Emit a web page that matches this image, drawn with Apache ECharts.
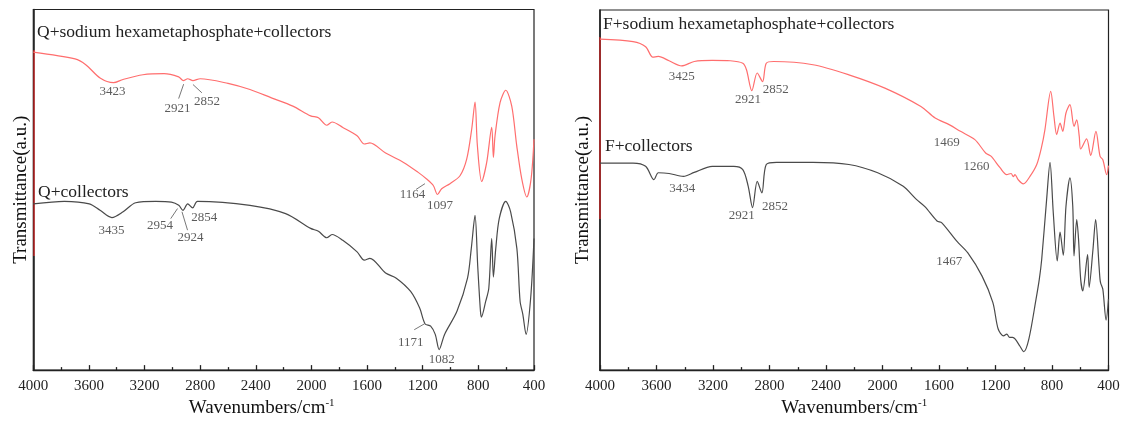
<!DOCTYPE html>
<html>
<head>
<meta charset="utf-8">
<script src="https://cdn.jsdelivr.net/npm/echarts@6/dist/echarts.min.js"></script>
<style>
html,body{margin:0;padding:0;background:#fff;}
#chart{width:1126px;height:423px;}
</style>
</head>
<body>
<div id="chart"></div>
<script>
// ---------- DATA (wavenumber cm-1, transmittance a.u.) ----------
var xTicks = [4000, 3600, 3200, 2800, 2400, 2000, 1600, 1200, 800, 400];

var qShmpCollectors = [
  [4000,88.2],[3700,86.3],[3623,84.7],[3520,81.0],[3423,79.7],[3355,80.6],[3212,81.9],[3060,82.2],
  [2955,81.3],[2921,80.3],[2890,80.8],[2852,80.3],[2800,80.8],[2600,79.5],[2442,77.8],[2288,75.5],
  [2134,73.2],[2006,70.5],[1950,70.0],[1890,67.9],[1852,68.8],[1775,67.3],[1672,65.0],[1620,62.7],
  [1580,63.0],[1467,60.2],[1338,57.6],[1235,54.9],[1172,53.0],[1124,51.2],[1094,48.7],[1064,50.3],
  [1004,51.7],[932,53.9],[884,58.5],[848,66.8],[824,74.3],[807,62.2],[776,52.3],[740,57.6],
  [704,67.3],[692,59.0],[680,65.0],[644,74.2],[603,77.6],[560,73.2],[524,62.2],[488,53.0],
  [452,48.0],[421,53.0],[400,64.0]
];

var qCollectors = [
  [4000,46.1],[3777,46.8],[3597,46.1],[3520,44.3],[3435,42.3],[3354,43.9],[3264,46.4],[3120,46.8],
  [3007,46.6],[2954,45.7],[2924,44.3],[2890,46.1],[2854,45.0],[2820,46.8],[2442,45.7],[2186,43.4],
  [2006,39.3],[1950,38.5],[1890,36.7],[1852,37.6],[1775,36.0],[1672,32.8],[1620,30.5],[1580,31.0],
  [1467,26.9],[1390,25.5],[1287,21.8],[1222,17.2],[1183,12.8],[1143,12.2],[1110,9.9],[1082,5.7],
  [1043,9.9],[954,16.3],[878,25.5],[851,33.7],[824,42.9],[805,29.1],[785,16.3],[778,14.7],
  [747,19.1],[725,22.7],[704,36.5],[692,25.8],[675,33.7],[650,42.0],[603,46.8],[568,43.9],
  [523,33.7],[500,19.1],[480,15.4],[457,9.9],[424,20.0],[400,36.5]
];

var fShmpCollectors = [
  [4000,91.9],[3766,91.2],[3677,89.8],[3626,86.9],[3587,87.1],[3511,85.9],[3422,84.5],[3333,85.7],
  [3205,86.0],[3078,85.9],[2989,85.2],[2963,83.4],[2925,77.6],[2887,82.5],[2849,80.1],[2823,85.2],
  [2770,85.7],[2492,84.8],[2238,82.0],[1983,78.3],[1728,73.2],[1627,70.0],[1525,68.1],[1448,66.3],
  [1346,64.0],[1270,60.3],[1232,59.4],[1168,56.2],[1121,54.3],[1090,54.6],[1074,53.7],[1062,54.3],
  [1040,52.9],[1003,51.7],[956,53.8],[908,57.1],[873,62.1],[850,66.8],[809,77.4],[786,70.4],
  [767,65.4],[743,68.6],[724,66.3],[701,71.4],[673,73.7],[644,67.7],[625,69.5],[607,64.9],
  [597,61.4],[555,64.2],[526,59.6],[489,66.3],[460,59.4],[440,58.4],[413,54.3],[400,56.8]
];

var fCollectors = [
  [4000,57.5],[3766,57.5],[3677,56.6],[3618,52.9],[3587,54.8],[3511,54.6],[3409,53.8],[3333,54.9],
  [3205,56.6],[3053,56.6],[2989,55.7],[2951,51.1],[2920,45.1],[2887,52.4],[2854,49.2],[2823,57.1],
  [2750,57.7],[2492,57.7],[2238,57.1],[2034,54.8],[1856,51.1],[1760,47.4],[1700,45.4],[1614,41.4],
  [1580,40.9],[1474,35.8],[1397,32.6],[1295,26.1],[1219,18.8],[1181,11.4],[1143,9.5],[1120,10.0],
  [1100,9.1],[1079,9.1],[1060,8.6],[1028,6.7],[1000,5.1],[964,8.6],[913,19.7],[890,25.2],
  [873,30.7],[838,47.4],[814,57.7],[791,43.7],[763,30.3],[743,38.3],[720,31.9],[701,45.5],
  [673,53.4],[653,45.5],[644,31.7],[625,41.8],[612,36.3],[597,25.2],[582,22.0],[548,32.1],
  [537,23.0],[510,33.5],[491,41.8],[467,28.9],[460,25.2],[455,24.1],[440,22.4],[417,13.9],[400,19.7]
];

// peak labels: [text, wavenumber, transmittance]
var qPeakLabels = [
  ['3423',3431,77.1],['2921',2963,72.6],['2852',2751,74.6],['1164',1274,48.6],['1097',1076,45.7],
  ['3435',3438,38.8],['2954',3089,40.2],['2924',2870,36.8],['2854',2770,42.3],['1171',1286,7.6],['1082',1063,3.0]
];
var fPeakLabels = [
  ['3425',3422,81.4],['2921',2952,75.1],['2852',2755,77.8],['1469',1545,63.2],['1260',1334,56.6],
  ['3434',3417,50.3],['2921',2997,42.9],['2852',2761,45.4],['1467',1528,30.0]
];
// leader lines: [[w1,t1],[w2,t2]]
var qLeaders = [
  [[2919,79.3],[2955,75.3]], [[2852,79.2],[2788,76.9]], [[1184,51.7],[1248,50.1]],
  [[2963,44.8],[3012,42.0]], [[2931,43.9],[2891,38.8]], [[1189,12.8],[1261,11.2]]
];

var panelNames = ['Q+sodium hexametaphosphate+collectors','Q+collectors','F+sodium hexametaphosphate+collectors','F+collectors'];
var xName = 'Wavenumbers/cm';
var yName = 'Transmittance(a.u.)';

// ---------- CHART ----------
var SERIF = 'Liberation Serif';
var RED = '#ff6e6e', BLACK = '#4a4a4a', DARKRED = '#a51818', AXIS = '#222';
var chart = echarts.init(document.getElementById('chart'), null, {renderer:'canvas'});

function axisGrad(r0, r1){
  return new echarts.graphic.LinearGradient(0,0,0,1,[
    {offset:0,color:AXIS},{offset:r0,color:AXIS},{offset:r0,color:DARKRED},
    {offset:r1,color:DARKRED},{offset:r1,color:AXIS},{offset:1,color:AXIS}
  ]);
}

function xAxisCfg(idx, pad){
  return {
    type:'value', gridIndex:idx, min:400, max:4000, interval:400, inverse:true,
    name: xName + '{sup|-1}', nameLocation:'middle', nameGap:25,
    nameTextStyle:{fontFamily:SERIF, fontSize:19, color:'#111', padding:pad,
      rich:{sup:{fontFamily:SERIF, fontSize:11, color:'#111', verticalAlign:'top', padding:[0,0,10,0]}}},
    axisLine:{show:true, onZero:false, lineStyle:{color:AXIS, width:1.4}},
    axisTick:{show:true, inside:true, length:5, lineStyle:{color:AXIS, width:1.3}},
    minorTick:{show:true, splitNumber:2, length:3, lineStyle:{color:AXIS, width:1.3}},
    axisLabel:{fontFamily:SERIF, fontSize:15, color:'#222', margin:8,
      formatter:function(v){ return xTicks.indexOf(v) >= 0 ? String(v) : ''; }},
    splitLine:{show:false}
  };
}
function yAxisCfg(idx, gap, r0, r1){
  return {
    type:'value', gridIndex:idx, min:0, max:100,
    name:yName, nameLocation:'middle', nameGap:gap, nameRotate:90,
    nameTextStyle:{fontFamily:SERIF, fontSize:19, color:'#111'},
    axisLine:{show:true, lineStyle:{color:axisGrad(r0,r1), width:1.6}},
    axisTick:{show:false}, axisLabel:{show:false}, splitLine:{show:false}
  };
}
function lineSeries(data, xi, color){
  return {type:'line', xAxisIndex:xi, yAxisIndex:xi, data:data, showSymbol:false, symbol:'none',
    smooth:0.3, lineStyle:{color:color, width:1.2}, z:3, animation:false};
}
function labelSeries(arr, xi){
  return {type:'scatter', xAxisIndex:xi, yAxisIndex:xi, symbolSize:0.1, itemStyle:{color:'rgba(0,0,0,0)'},
    data: arr.map(function(a){return {name:a[0], value:[a[1],a[2]]};}),
    label:{show:true, position:'inside', formatter:'{b}', fontFamily:SERIF, fontSize:13, color:'#333'},
    silent:true, animation:false, z:4};
}
function leaderSeries(arr, xi){
  return {type:'lines', coordinateSystem:'cartesian2d', xAxisIndex:xi, yAxisIndex:xi,
    data: arr.map(function(c){return {coords:c};}),
    lineStyle:{color:'#555', width:0.8, opacity:1}, silent:true, animation:false, z:4};
}
function panelTitle(text, left, top){
  return {text:text, left:left, top:top, padding:0,
    textStyle:{fontFamily:SERIF, fontSize:17.5, fontWeight:'normal', color:'#222'}};
}

chart.setOption({
  backgroundColor:'#fff',
  animation:false,
  title:[
    panelTitle(panelNames[0], 37, 23),
    panelTitle(panelNames[1], 38, 183),
    panelTitle(panelNames[2], 603, 15),
    panelTitle(panelNames[3], 605, 137)
  ],
  grid:[
    {left:33.3, top:9.5, width:500.7, height:363, show:true, borderColor:AXIS, borderWidth:1.2, backgroundColor:'transparent'},
    {left:600, top:10, width:508.5, height:361, show:true, borderColor:AXIS, borderWidth:1.2, backgroundColor:'transparent'}
  ],
  xAxis:[ xAxisCfg(0,[0,44,0,0]), xAxisCfg(1,[0,0,0,0]) ],
  yAxis:[ yAxisCfg(0,3,0.118,0.68), yAxisCfg(1,7,0.081,0.58) ],
  series:[
    lineSeries(qShmpCollectors,0,RED),
    lineSeries(qCollectors,0,BLACK),
    lineSeries(fShmpCollectors,1,RED),
    lineSeries(fCollectors,1,BLACK),
    labelSeries(qPeakLabels,0),
    labelSeries(fPeakLabels,1),
    leaderSeries(qLeaders,0)
  ]
});
</script>
</body>
</html>
